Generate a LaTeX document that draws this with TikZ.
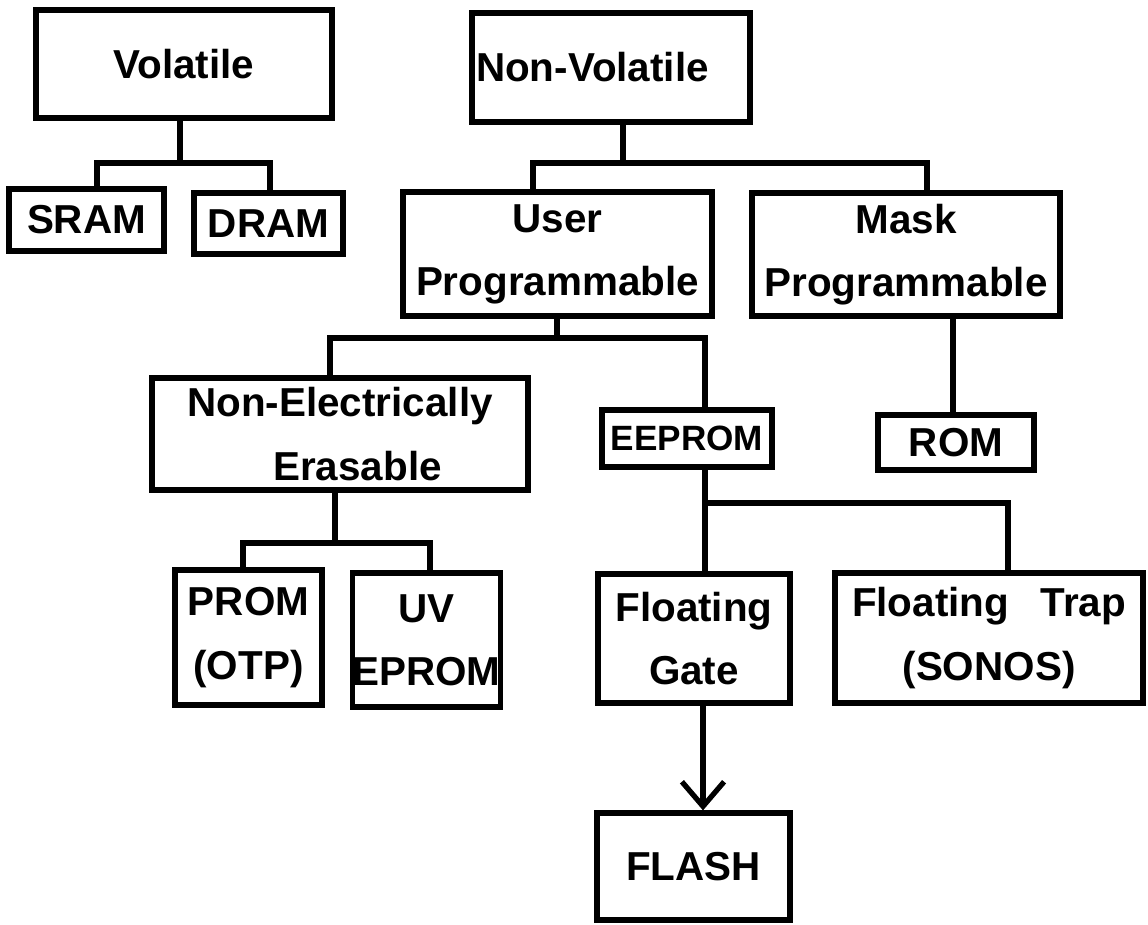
\documentclass[tikz,border=0pt]{standalone}
\usepackage{fontspec}
\setmainfont{Liberation Sans}
\usepackage{tikz}
\usetikzlibrary{calc, positioning, arrows.meta}
\newcommand{\cellfont}{\fontsize{23}{36}\selectfont\bfseries}
\tikzstyle{cell}=[draw, shape=rectangle, line width=3pt, inner sep=0pt, align=center, font=\cellfont]
\tikzstyle{wire}=[line width=3pt]
\tikzset{>={Straight Barb[length=14pt,width=24pt]}}

\begin{document}
\begin{tikzpicture}[x=0.02cm, y=-0.02cm]
\useasboundingbox (0,0) rectangle (1148,924);
% the volatile memories
\node[cell, minimum width=5.92cm, minimum height=2.16cm] (vol) at (184,64) {Volatile};
\node[cell, minimum width=3.10cm, minimum height=1.24cm] (sram) at (86.5,220) {SRAM};
\node[cell, minimum width=2.98cm, minimum height=1.22cm] (dram) at (268.5,223.5) {DRAM};
% the non-volatile memories, upper row
\node[cell, text width=5.40cm, inner xsep=0.08cm, align=left, minimum height=2.18cm] (nonvol) at (611,67.5) {Non-Volatile};
\node[cell, minimum width=6.18cm, minimum height=2.48cm] (up) at (557.5,254) {User\\Programmable};
\node[cell, minimum width=6.16cm, minimum height=2.46cm] (mask) at (906,254.5) {Mask\\Programmable};
% the middle row
\node[cell, minimum width=7.52cm, minimum height=2.24cm] (nee) at (340,434) {Non-Electrically\\\hspace*{0.7cm}Erasable};
\node[cell, font=\fontsize{20}{24}\selectfont\bfseries, minimum width=3.40cm, minimum height=1.14cm] (eeprom) at (687,438.5) {EEPROM};
\node[cell, minimum width=3.12cm, minimum height=1.10cm] (rom) at (956,442.5) {ROM};
% the lower row
\node[cell, minimum width=2.94cm, minimum height=2.70cm] (prom) at (248.5,637.5) {PROM\\(OTP)};
\node[cell, minimum width=2.82cm, minimum height=2.68cm] (uv) at (426.5,640) {UV\\EPROM};
\node[cell, minimum width=3.84cm, minimum height=2.58cm] (gate) at (694,638.5) {Floating\\Gate};
\node[cell, minimum width=6.16cm, minimum height=2.60cm] (trap) at (989,638) {Floating\enspace\ Trap\\(SONOS)};
\node[cell, minimum width=3.86cm, minimum height=2.14cm] (flash) at (693.5,866.5) {FLASH};
% the junctions
\coordinate (vj) at (180,163);
\coordinate (vl) at (97,163);
\coordinate (vr) at (270,163);
\coordinate (nj) at (623,163);
\coordinate (nl) at (533,163);
\coordinate (nr) at (927,163);
\coordinate (mr) at (953,0);
\coordinate (uj) at (557,338);
\coordinate (ul) at (330,338);
\coordinate (ur) at (705,338);
\coordinate (ej) at (335,543);
\coordinate (el) at (243,543);
\coordinate (er) at (430,543);
\coordinate (fj) at (705,503);
\coordinate (fr) at (1008,503);
\coordinate (fx) at (703,0);
% the tree lines
\draw[wire] (vol.south -| vj) -- (vj);
\draw[wire] (vl |- sram.north) -- (vl) -- (vr) -- (vr |- dram.north);
\draw[wire] (nonvol.south -| nj) -- (nj);
\draw[wire] (nl |- up.north) -- (nl) -- (nr) -- (nr |- mask.north);
\draw[wire] (mask.south -| mr) -- (rom.north -| mr);
\draw[wire] (up.south -| uj) -- (uj);
\draw[wire] (ul |- nee.north) -- (ul) -- (ur) -- (ur |- eeprom.north);
\draw[wire] (nee.south -| ej) -- (ej);
\draw[wire] (el |- prom.north) -- (el) -- (er) -- (er |- uv.north);
\draw[wire] (eeprom.south -| fj) -- (fj) -- (fr) -- (fr |- trap.north);
\draw[wire] (fj) -- (fj |- gate.north);
% floating gate leads to flash
\draw[wire, ->] (gate.south -| fx) -- (flash.north -| fx);
\end{tikzpicture}
\end{document}
